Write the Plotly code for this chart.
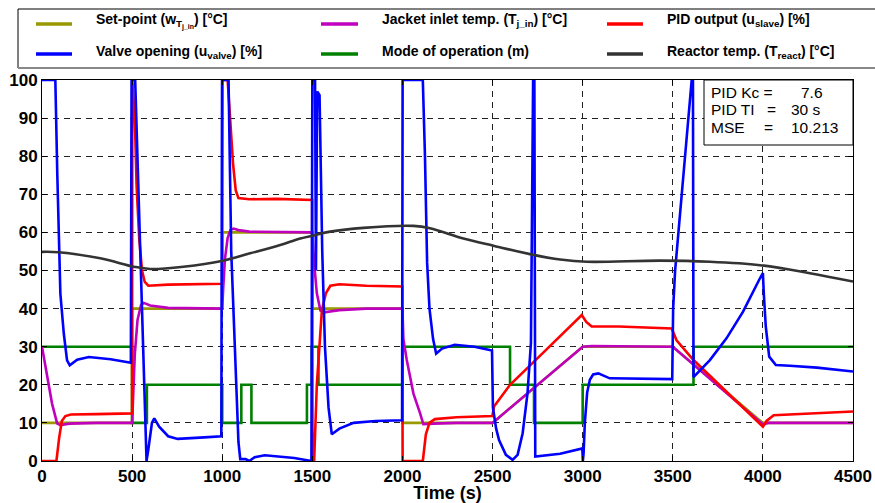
import plotly.graph_objects as go

# ---------------- data ----------------
sp_t = [0, 500, 500, 1000, 1000, 1500, 1500, 2000, 2000, 2500, 3000, 3500, 4000, 4500]
sp_v = [10, 10, 40, 40, 60, 60, 40, 40, 10, 10, 30, 30, 10, 10]

mode_t = [0, 500, 500, 582, 582, 1000, 1000, 1106, 1106, 1162, 1162, 1470, 1470, 1497, 1497,
          1534, 1534, 2000, 2000, 2597, 2597, 2730, 2730, 3000, 3000, 3615, 3615, 4500]
mode_v = [30, 30, 10, 10, 20, 20, 10, 10, 20, 20, 10, 10, 20, 20, 30,
          30, 20, 20, 30, 30, 20, 20, 10, 10, 20, 20, 30, 30]

jk_t = [0, 28, 56, 84, 102, 150, 300, 500, 505, 515, 530, 550, 565, 600, 700, 1000,
        1005, 1015, 1030, 1045, 1063, 1090, 1150, 1500, 1510, 1525, 1545, 1565, 1650, 1800,
        2000, 2005, 2024, 2061, 2098, 2116, 2172, 2300, 2500, 3000, 3050, 3500, 4000, 4030, 4500]
jk_v = [30, 23, 15, 9.9, 9.4, 9.8, 10, 10, 15, 28, 37, 41, 41.5, 40.8, 40.2, 40,
        45, 53, 58.5, 60.6, 61, 60.6, 60.2, 60, 52, 44, 39.5, 39, 39.6, 40,
        40, 32, 26.5, 17.7, 12.5, 9.7, 9.8, 10, 10, 30, 30.2, 30, 9.6, 10, 10]

pid_t = [0, 80, 95, 110, 130, 160, 300, 500, 501, 515, 525, 540, 555, 570, 590, 700, 1000,
         1001, 1030, 1040, 1050, 1060, 1075, 1090, 1150, 1300, 1499, 1501, 1510, 1525, 1535,
         1553, 1575, 1600, 1650, 1800, 1999, 2001, 2113, 2130, 2150, 2180, 2300, 2499, 2508,
         2597, 2750, 2875, 2995, 3020, 3050, 3200, 3494, 3521, 3615, 4000, 4020, 4060, 4200, 4500]
pid_v = [0, 0, 6, 10.5, 11.8, 12.2, 12.3, 12.5, 100, 90, 72, 58, 50, 47, 46, 46.3, 46.5,
         100, 100, 92, 85, 78, 71, 69, 68.7, 68.8, 68.5, 0, 0, 20, 27,
         39.6, 44, 46, 46.4, 46, 45.8, 0, 0, 7, 10, 11, 11.5, 11.8, 14.3,
         20, 27, 32.7, 38.3, 36.5, 35.3, 35.3, 34.8, 31.7, 26.5, 9, 10.5, 12, 12.3, 13]

vlv_t = [0, 74, 85, 95, 102, 121, 139, 154, 195, 260, 381, 493, 497, 517, 545, 565, 580, 590,
         610, 623, 650, 700, 753, 900, 995, 999, 1035, 1050, 1070, 1090, 1100, 1130, 1150, 1180,
         1236, 1300, 1400, 1495, 1500, 1515, 1520, 1527, 1540, 1555, 1570, 1590, 1608, 1650, 1729,
         1850, 1998, 2001, 2113, 2125, 2137, 2150, 2170, 2187, 2220, 2290, 2400, 2497, 2502, 2520,
         2536, 2574, 2611, 2639, 2667, 2694, 2713, 2725, 2732, 2737, 2875, 2998, 3001, 3005, 3012,
         3025, 3040, 3058, 3087, 3150, 3497, 3502, 3513, 3605, 3612, 3615, 3706, 3798, 3890, 3983,
         4000, 4005, 4016, 4035, 4072, 4150, 4300, 4500]
vlv_v = [100, 100, 75, 52, 43.9, 33.4, 26.4, 25.1, 26.6, 27.3, 26.7, 25.8, 100, 100, 55, 25, 0, 3,
         10, 11.2, 9, 6.5, 5.8, 6.2, 6.5, 100, 100, 55, 30, 5, 0.5, 0.5, 0, 1,
         1.5, 1.3, 0.8, 0, 100, 100, 50, 97, 96, 55, 30, 14, 7, 8.5, 10,
         10.5, 10.7, 100, 100, 80, 52, 40, 32, 28.2, 29.5, 30.5, 30, 29, 14, 8.5,
         5.5, 1.6, 0.3, 1.6, 7.3, 17.8, 31, 100, 100, 1.2, 1.9, 3.3, 0, 2, 10,
         18, 21.3, 22.7, 23, 21.7, 21.5, 40, 50, 100, 100, 22, 26.5, 32.2, 39.2, 47.9,
         49.3, 44, 35.3, 27.4, 25.2, 25, 24.5, 23.5]

rx_t = [0, 92, 323, 510, 601, 785, 998, 1155, 1322, 1433, 1506, 1599, 1783, 2061, 2153, 2338,
        2505, 2726, 2875, 3022, 3429, 3706, 3984, 4261, 4500]
rx_v = [54.9, 54.8, 53.2, 51.0, 50.4, 51.0, 52.5, 54.5, 56.7, 58.4, 59.2, 60.2, 61.2, 61.7, 61.1,
        58.4, 56.5, 54.1, 52.9, 52.3, 52.6, 52.3, 51.4, 49.3, 47.1]

x_ticks = [0, 500, 1000, 1500, 2000, 2500, 3000, 3500, 4000, 4500]
y_ticks = [0, 10, 20, 30, 40, 50, 60, 70, 80, 90, 100]

legend_labels = [
    "Set-point (w<sub>T<sub>j_in</sub></sub>) [°C]",
    "Jacket inlet temp. (T<sub>j_in</sub>) [°C]",
    "PID output (u<sub>slave</sub>) [%]",
    "Valve opening (u<sub>valve</sub>) [%]",
    "Mode of operation (m)",
    "Reactor temp. (T<sub>react</sub>) [°C]",
]
legend_colors = ["#999900", "#bf00bf", "#ff0000", "#0000ff", "#008000", "#333333"]

info_labels = ["PID Kc =", "PID TI", "MSE"]
info_eq = ["", "=", "="]
info_values = ["7.6", "30 s", "10.213"]

# ---------------- figure ----------------
W, H = 875, 503
L, R, T, B = 42, 853, 80, 461   # plot area in pixels


def xp(px):
    return (px - L) / (R - L)


def yp(py):
    return (B - py) / (B - T)


FONT = "Liberation Sans, Arial, sans-serif"
lw = 2.6

fig = go.Figure()
fig.add_trace(go.Scatter(x=sp_t, y=sp_v, mode="lines", line=dict(color=legend_colors[0], width=lw),
                         showlegend=False, name="Set-point"))
fig.add_trace(go.Scatter(x=mode_t, y=mode_v, mode="lines", line=dict(color=legend_colors[4], width=lw),
                         showlegend=False, name="Mode"))
fig.add_trace(go.Scatter(x=jk_t, y=jk_v, mode="lines", line=dict(color=legend_colors[1], width=lw),
                         showlegend=False, name="Jacket inlet"))
fig.add_trace(go.Scatter(x=pid_t, y=pid_v, mode="lines", line=dict(color=legend_colors[2], width=lw),
                         showlegend=False, name="PID"))
fig.add_trace(go.Scatter(x=vlv_t, y=vlv_v, mode="lines", line=dict(color=legend_colors[3], width=lw),
                         showlegend=False, name="Valve"))
fig.add_trace(go.Scatter(x=rx_t, y=rx_v, mode="lines", line=dict(color=legend_colors[5], width=lw, shape="spline"),
                         showlegend=False, name="Reactor"))

shapes = []
annotations = []

# legend frame
shapes.append(dict(type="rect", xref="paper", yref="paper", x0=xp(18), x1=xp(890), y0=yp(68), y1=yp(9),
                   line=dict(color="black", width=1), fillcolor="white", layer="above"))
shapes.append(dict(type="line", xref="paper", yref="paper", x0=xp(18), x1=xp(890), y0=yp(68), y1=yp(68),
                   line=dict(color="#888888", width=2), layer="above"))

col_line = [(36, 72), (321, 358), (607, 643)]
col_text = [94, 380, 665]
row_line_y = [24, 54]
row_text_top = [9, 41]
for i, (lab, col) in enumerate(zip(legend_labels, legend_colors)):
    r, c = divmod(i, 3)
    shapes.append(dict(type="line", xref="paper", yref="paper",
                       x0=xp(col_line[c][0]), x1=xp(col_line[c][1]),
                       y0=yp(row_line_y[r]), y1=yp(row_line_y[r]),
                       line=dict(color=col, width=3.5), layer="above"))
    annotations.append(dict(xref="paper", yref="paper", x=xp(col_text[c]), y=yp(row_text_top[r]),
                            xanchor="left", yanchor="top", text="<b>" + lab + "</b>", showarrow=False,
                            font=dict(family=FONT, size=14, color="black")))

# info box
shapes.append(dict(type="rect", xref="paper", yref="paper", x0=xp(704), x1=xp(853), y0=yp(145), y1=yp(80),
                   line=dict(color="black", width=1), fillcolor="white", layer="above"))
row_c = [92.5, 109.5, 127.5]
eq_x = [None, 765, 762]
for i in range(3):
    annotations.append(dict(xref="paper", yref="paper", x=xp(709), y=yp(row_c[i]), xanchor="left",
                            yanchor="middle", text=info_labels[i], showarrow=False,
                            font=dict(family=FONT, size=15.5, color="black")))
    if info_eq[i]:
        annotations.append(dict(xref="paper", yref="paper", x=xp(eq_x[i]), y=yp(row_c[i]), xanchor="left",
                                yanchor="middle", text=info_eq[i], showarrow=False,
                                font=dict(family=FONT, size=15.5, color="black")))
    vx = 799 if i == 0 else 789
    annotations.append(dict(xref="paper", yref="paper", x=xp(vx), y=yp(row_c[i]), xanchor="left",
                            yanchor="middle", text=info_values[i], showarrow=False,
                            font=dict(family=FONT, size=15.5, color="black")))

fig.update_layout(
    width=W, height=H,
    margin=dict(l=L, r=W - R, t=T, b=H - B, pad=0, autoexpand=False),
    paper_bgcolor="white", plot_bgcolor="white",
    shapes=shapes, annotations=annotations,
    showlegend=False,
)
axis_common = dict(showline=True, linecolor="black", linewidth=1, mirror="ticks",
                   ticks="inside", ticklen=5, tickcolor="black",
                   showgrid=True, gridcolor="#222222", gridwidth=1, griddash="6px,5px",
                   zeroline=False, automargin=False,
                   tickfont=dict(family=FONT, size=17, color="black"))
fig.update_xaxes(range=[0, 4500], tickvals=x_ticks, ticktext=["<b>%d</b>" % v for v in x_ticks],
                 title=dict(text="<b>Time (s)</b>", font=dict(family=FONT, size=18, color="black"), standoff=2),
                 **axis_common)
fig.update_yaxes(range=[0, 100], tickvals=y_ticks, ticktext=["<b>%d</b>" % v for v in y_ticks],
                 **axis_common)

fig.write_html("out.html")
